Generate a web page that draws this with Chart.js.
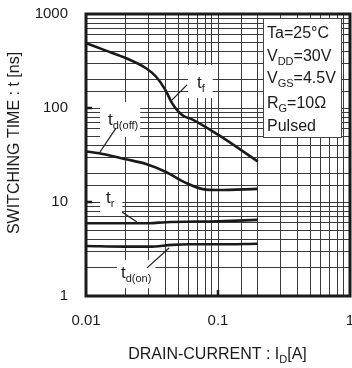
<!DOCTYPE html>
<html>
<head>
<meta charset="utf-8">
<script src="https://cdn.jsdelivr.net/npm/chart.js@4"></script>
<style>
body { margin: 0; background: #fff; }
</style>
</head>
<body>
<canvas id="sw" width="352" height="368"></canvas>
<script>
// switching time vs drain current (log-log)
const tfX = [0.01, 0.014, 0.02, 0.0285, 0.034, 0.04, 0.045, 0.05, 0.055, 0.062, 0.1, 0.2];
const tfY = [490, 410, 340, 265, 215, 155, 112, 92, 82, 77, 52, 27];

const tdoffX = [0.01, 0.0126, 0.02, 0.0285, 0.04, 0.057, 0.077, 0.1, 0.2];
const tdoffY = [34.5, 33, 28.5, 25.4, 21, 16, 13.7, 13.4, 13.8];

const trX = [0.01, 0.03, 0.04, 0.1, 0.2];
const trY = [5.95, 5.95, 6.1, 6.25, 6.45];

const tdonX = [0.01, 0.02, 0.03, 0.045, 0.06, 0.1, 0.2];
const tdonY = [3.4, 3.35, 3.35, 3.5, 3.55, 3.55, 3.6];

const xTicks = [0.01, 0.1, 1];
const yTicks = [1, 10, 100, 1000];

const conditions = [
  [['Ta=25°C', 0]],
  [['V', 0], ['DD', 1], ['=30V', 0]],
  [['V', 0], ['GS', 1], ['=4.5V', 0]],
  [['R', 0], ['G', 1], ['=10Ω', 0]],
  [['Pulsed', 0]]
];

// curve labels: text anchor, white box padding, leader line (data coords)
const curveLabels = [
  { parts: [['t', 0], ['f', 1]], at: [0.0693, 163], pad: [9, 23, 8, 10], lead: [[0.0582, 176], [0.0449, 122]] },
  { parts: [['t', 0], ['d(off)', 1]], at: [0.01468, 65.9], pad: [8, 23, 2, 12], lead: [[0.01687, 61.2], [0.01277, 34]] },
  { parts: [['t', 0], ['r', 1]], at: [0.01418, 9.75], pad: [6, 15, 8, 9], lead: [[0.01875, 7.83], [0.0243, 6.12]] },
  { parts: [['t', 0], ['d(on)', 1]], at: [0.0184, 1.55], pad: [4, 18, 4, 10], lead: [[0.029, 1.99], [0.0426, 3.24]] }
];

const FONT = "'Liberation Sans', Arial, sans-serif";
const ink = '#1a1a1a';

function pts(xs, ys) {
  return xs.map((x, i) => ({ x: x, y: ys[i] }));
}

function curve(xs, ys) {
  return {
    data: pts(xs, ys),
    borderColor: ink,
    borderWidth: 2.6,
    pointRadius: 0,
    fill: false,
    cubicInterpolationMode: 'monotone'
  };
}

function isDecade(v, list) {
  return list.some(t => Math.abs(Math.log10(v) - Math.log10(t)) < 1e-6);
}

// draws a run of normal/subscript pieces starting at x, baseline y
function drawParts(ctx, parts, x, y, big, small) {
  ctx.textBaseline = 'alphabetic';
  ctx.textAlign = 'left';
  for (const [s, sub] of parts) {
    ctx.font = (sub ? small : big) + 'px ' + FONT;
    ctx.fillText(s, x, y + (sub ? 4 : 0));
    x += ctx.measureText(s).width;
  }
  return x;
}

function partsWidth(ctx, parts, big, small) {
  let w = 0;
  for (const [s, sub] of parts) {
    ctx.font = (sub ? small : big) + 'px ' + FONT;
    w += ctx.measureText(s).width;
  }
  return w;
}

const decor = {
  id: 'decor',
  beforeDatasetsDraw(chart) {
    const ctx = chart.ctx, xs = chart.scales.x, ys = chart.scales.y;
    const a = chart.chartArea;
    ctx.save();
    // white boxes behind curve labels
    ctx.fillStyle = '#fff';
    curveLabels.forEach(l => {
      const px = xs.getPixelForValue(l.at[0]), py = ys.getPixelForValue(l.at[1]);
      const w = partsWidth(ctx, l.parts, 17, 11);
      ctx.fillRect(px - l.pad[0], py - l.pad[1], w + l.pad[0] + l.pad[2], l.pad[1] + l.pad[3]);
    });
    // conditions box
    const bx = a.right - 87, by = a.top + 4;
    ctx.fillRect(bx, by, 78, 119);
    ctx.strokeStyle = '#444';
    ctx.lineWidth = 1;
    ctx.strokeRect(bx + 0.5, by + 0.5, 78, 119);
    ctx.fillStyle = ink;
    conditions.forEach((line, i) => {
      const yy = by + 20 + [0, 23, 45, 70, 93][i];
      drawParts(ctx, line, bx + 4, yy, 16, 11);
    });
    // curve labels and leaders
    curveLabels.forEach(l => {
      const px = xs.getPixelForValue(l.at[0]), py = ys.getPixelForValue(l.at[1]);
      drawParts(ctx, l.parts, px, py, 17, 11);
      ctx.beginPath();
      ctx.moveTo(xs.getPixelForValue(l.lead[0][0]), ys.getPixelForValue(l.lead[0][1]));
      ctx.lineTo(xs.getPixelForValue(l.lead[1][0]), ys.getPixelForValue(l.lead[1][1]));
      ctx.strokeStyle = ink;
      ctx.lineWidth = 1.2;
      ctx.stroke();
    });
    ctx.restore();
  },
  afterDraw(chart) {
    const ctx = chart.ctx, a = chart.chartArea;
    const xs = chart.scales.x, ys = chart.scales.y;
    ctx.save();
    ctx.strokeStyle = ink;
    ctx.lineWidth = 3;
    ctx.strokeRect(a.left, a.top, a.right - a.left, a.bottom - a.top);
    // short inward marks at inner decades
    ctx.lineWidth = 2.5;
    ctx.beginPath();
    yTicks.slice(1, -1).forEach(v => {
      const y = ys.getPixelForValue(v);
      ctx.moveTo(a.left, y); ctx.lineTo(a.left + 6, y);
    });
    xTicks.slice(1, -1).forEach(v => {
      const x = xs.getPixelForValue(v);
      ctx.moveTo(x, a.bottom); ctx.lineTo(x, a.bottom - 6);
    });
    ctx.stroke();
    // axis titles
    ctx.fillStyle = ink;
    ctx.font = '16px ' + FONT;
    ctx.translate(15, 143);
    ctx.rotate(-Math.PI / 2);
    ctx.textAlign = 'center';
    ctx.textBaseline = 'middle';
    ctx.fillText('SWITCHING TIME : t [ns]', 0, 0);
    ctx.setTransform(1, 0, 0, 1, 0, 0);
    const xt = [['DRAIN-CURRENT : I', 0], ['D', 1], ['[A]', 0]];
    const w = partsWidth(ctx, xt, 16, 11);
    drawParts(ctx, xt, 217.5 - w / 2, 359, 16, 11);
    ctx.restore();
  }
};

const gridOpts = { color: '#3a3a3a', lineWidth: 1, drawTicks: false };

new Chart(document.getElementById('sw'), {
  type: 'line',
  data: {
    datasets: [
      curve(tfX, tfY),
      curve(tdoffX, tdoffY),
      curve(trX, trY),
      curve(tdonX, tdonY)
    ]
  },
  options: {
    responsive: false,
    animation: false,
    devicePixelRatio: 1,
    layout: { padding: { top: 14, right: 2, left: 0, bottom: 0 } },
    plugins: { legend: { display: false }, tooltip: { enabled: false } },
    scales: {
      x: {
        type: 'logarithmic',
        min: 0.01,
        max: 1,
        border: { display: false },
        grid: gridOpts,
        ticks: {
          autoSkip: false,
          maxRotation: 0,
          padding: 16,
          color: ink,
          font: { family: FONT, size: 15 },
          callback: v => isDecade(v, xTicks) ? String(v) : ''
        },
        afterFit: s => { s.height = 72; s.paddingLeft = 0; s.paddingRight = 0; }
      },
      y: {
        type: 'logarithmic',
        min: 1,
        max: 1000,
        border: { display: false },
        grid: gridOpts,
        ticks: {
          autoSkip: false,
          padding: 18,
          color: ink,
          font: { family: FONT, size: 15 },
          callback: v => isDecade(v, yTicks) ? String(v) : ''
        },
        afterFit: s => { s.width = 86; s.paddingTop = 0; s.paddingBottom = 0; }
      }
    }
  },
  plugins: [decor]
});
</script>
</body>
</html>
